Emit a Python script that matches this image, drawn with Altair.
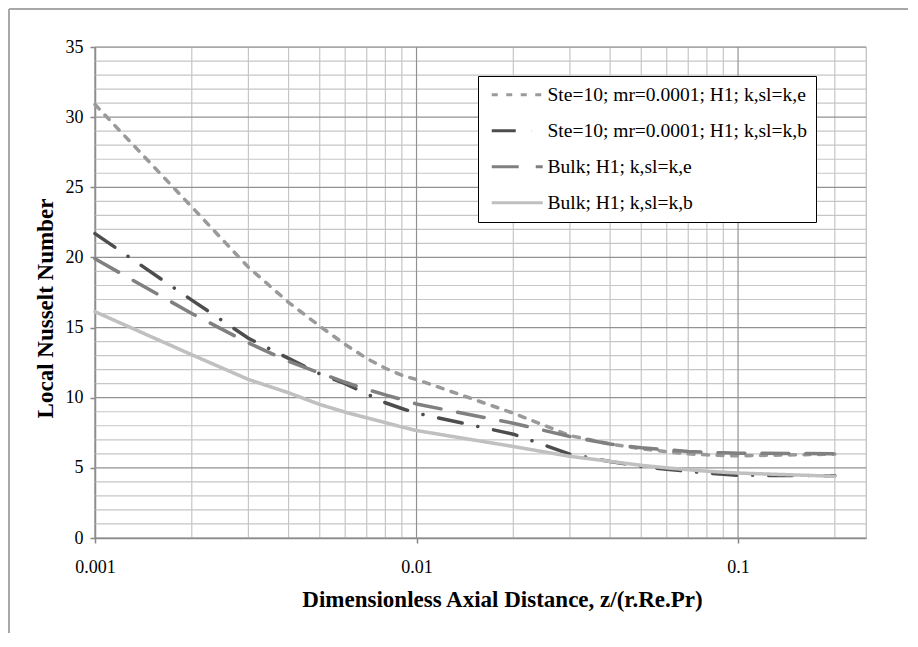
import altair as alt
import pandas as pd

# ---- data ----
z_vals = [0.001, 0.002, 0.003, 0.004, 0.005, 0.006, 0.007, 0.008, 0.009, 0.01,
          0.02, 0.03, 0.04, 0.05, 0.06, 0.07, 0.08, 0.09, 0.1, 0.2]
ste_e = [30.9, 23.6, 19.3, 16.8, 15.1, 13.8, 12.8, 12.1, 11.6, 11.3,
         8.9, 7.3, 6.7, 6.36, 6.15, 6.0, 5.93, 5.88, 5.86, 5.98]
ste_b = [21.7, 16.96, 14.24, 12.8, 11.7, 11.0, 10.27, 9.64, 9.23, 8.9,
         7.4, 5.98, 5.45, 5.1, 4.9, 4.75, 4.63, 4.55, 4.47, 4.44]
bulk_e = [19.9, 16.0, 13.9, 12.6, 11.76, 11.1, 10.6, 10.2, 9.87, 9.55,
          8.18, 7.23, 6.7, 6.43, 6.29, 6.17, 6.1, 6.07, 6.05, 6.0]
bulk_b = [16.13, 13.06, 11.3, 10.35, 9.52, 8.97, 8.57, 8.22, 7.91, 7.66,
          6.52, 5.82, 5.46, 5.18, 5.0, 4.87, 4.76, 4.69, 4.63, 4.4]

names = ["Ste=10; mr=0.0001; H1; k,sl=k,e",
         "Ste=10; mr=0.0001; H1; k,sl=k,b",
         "Bulk; H1; k,sl=k,e",
         "Bulk; H1; k,sl=k,b"]
colors = ["#9a9a9a", "#4d4d4d", "#808080", "#c0c0c0"]
dashes = [[6, 8.5], [24, 16, 0.1, 16], [27, 17], [1, 0]]

x_major = [0.001, 0.01, 0.1]
x_minor = [0.002, 0.003, 0.004, 0.005, 0.006, 0.007, 0.008, 0.009,
           0.02, 0.03, 0.04, 0.05, 0.06, 0.07, 0.08, 0.09, 0.2]
y_major = [0, 5, 10, 15, 20, 25, 30, 35]
y_minor = [v for v in range(1, 35) if v % 5 != 0]

rows = []
for name, series in zip(names, [ste_e, ste_b, bulk_e, bulk_b]):
    for z, v in zip(z_vals, series):
        rows.append({"series": name, "z": z, "nu": v})
df = pd.DataFrame(rows)

W, H = 771, 491
FONT = "Liberation Serif"
x_scale = alt.Scale(type="log", domain=[0.001, 0.25], nice=False)
y_scale = alt.Scale(domain=[0, 35], nice=False)
x_axis = alt.Axis(values=x_major, format="~g", grid=False, labelFlush=False,
                  title="Dimensionless Axial Distance, z/(r.Re.Pr)",
                  titleX=407, titleY=61, titleBaseline="middle")
y_axis = alt.Axis(values=y_major, grid=False, labelFlush=False,
                  title="Local Nusselt Number",
                  titleX=-50, titleY=261, titleBaseline="middle")
X = lambda: alt.X("z:Q", scale=x_scale, axis=x_axis)
Y = lambda: alt.Y("nu:Q", scale=y_scale, axis=y_axis)

gx_minor = alt.Chart(pd.DataFrame({"z": x_minor})).mark_rule(
    color="#c6c6c6", strokeWidth=1.2).encode(x=X())
gy_minor = alt.Chart(pd.DataFrame({"nu": y_minor})).mark_rule(
    color="#c6c6c6", strokeWidth=1.2).encode(y=Y())
gx_major = alt.Chart(pd.DataFrame({"z": x_major})).mark_rule(
    color="#929292", strokeWidth=1.2).encode(x=X())
gy_major = alt.Chart(pd.DataFrame({"nu": y_major})).mark_rule(
    color="#929292", strokeWidth=1.2).encode(y=Y())

lines = alt.Chart(df).mark_line(strokeWidth=3.5, strokeCap="round").encode(
    x=X(),
    y=Y(),
    color=alt.Color("series:N", sort=names,
                    scale=alt.Scale(domain=names, range=colors),
                    legend=alt.Legend(title=None)),
    strokeDash=alt.StrokeDash("series:N", sort=names,
                              scale=alt.Scale(domain=names, range=dashes),
                              legend=alt.Legend(title=None)),
)

frame_left = alt.Chart(pd.DataFrame({"a": [0]})).mark_rule(
    color="#a8a8a8", strokeWidth=2).encode(
    x=alt.value(-86), y=alt.value(-38), y2=alt.value(700))
frame_top = alt.Chart(pd.DataFrame({"a": [0]})).mark_rule(
    color="#a8a8a8", strokeWidth=2).encode(
    x=alt.value(-86), x2=alt.value(1000), y=alt.value(-38))

chart = alt.layer(
    gx_minor, gy_minor, gx_major, gy_major, lines, frame_left, frame_top
).properties(
    width=W, height=H,
    autosize=alt.AutoSizeParams(type="none"),
    padding={"left": 87, "top": 39, "right": 42, "bottom": 95},
).configure_view(
    stroke="#bdbdbd", strokeWidth=1.2
).configure_axis(
    domainColor="#878787", domainWidth=1.5,
    tickColor="#878787", tickWidth=1.5, tickSize=5,
    labelFont=FONT, labelFontSize=18, labelColor="#000000",
    titleFont=FONT, titleFontSize=23, titleFontWeight="bold", titleColor="#000000",
).configure_axisX(
    labelPadding=15,
).configure_axisY(
    labelPadding=7,
).configure_legend(
    orient="none", legendX=383, legendY=29,
    strokeColor="#000000", fillColor="#ffffff", padding=9,
    symbolType="M-1,0H9.2", symbolSize=100, symbolStrokeWidth=3,
    labelOffset=41, labelFont=FONT, labelFontSize=19.5, labelColor="#000000",
    rowPadding=15, labelLimit=400, symbolFillColor="transparent",
)

chart.save("out.html", embed_options={"renderer": "svg", "actions": False})
